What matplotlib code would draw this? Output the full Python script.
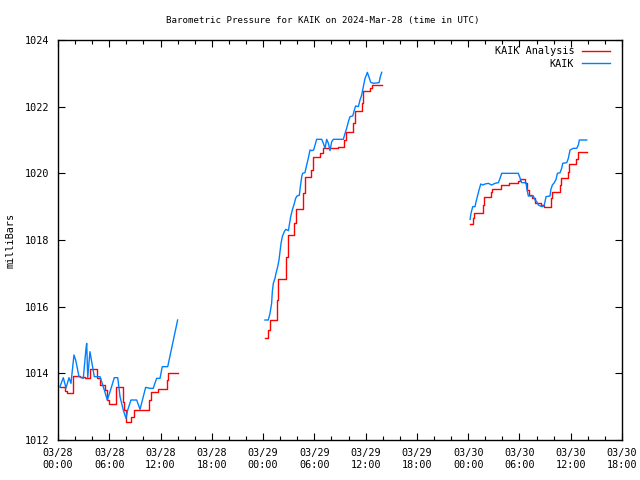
import datetime

import matplotlib
matplotlib.use('Agg')
import matplotlib.dates as mdates
import matplotlib.pyplot as plt
import numpy as np

# hours after 2024-03-28 00:00 UTC, pressure in millibars
analysis_hours = [
    [0.23, 0.82, 1.0, 1.8, 2.6, 3.2, 3.8, 4.6, 4.9, 5.5, 5.7, 6.0, 6.8, 7.6,
     7.75, 8.0, 8.6, 8.9, 10.6, 10.85, 11.7, 12.7, 12.9, 14.0],
    [24.22, 24.61, 24.8, 25.59, 25.78, 26.68, 26.96, 27.62, 27.89, 28.63, 28.9,
     29.57, 29.88, 30.66, 31.05, 32.8, 33.51, 33.67, 34.56, 34.76, 35.54, 35.73,
     36.51, 36.78, 37.88],
    [48.22, 48.53, 48.72, 49.7, 49.85, 50.67, 50.79, 51.8, 52.82, 53.87, 54.07,
     54.65, 54.85, 55.16, 55.43, 55.82, 56.52, 56.87, 57.69, 57.77, 58.75, 58.86,
     59.72, 59.84, 60.62, 60.89, 61.87],
]
analysis_mb = [
    [1013.6, 1013.47, 1013.4, 1013.93, 1013.9, 1013.85, 1014.12, 1013.85, 1013.65,
     1013.5, 1013.2, 1013.08, 1013.58, 1013.15, 1012.9, 1012.55, 1012.7, 1012.9,
     1013.2, 1013.45, 1013.53, 1013.8, 1014.02, 1014.02],
    [1015.05, 1015.3, 1015.6, 1016.2, 1016.82, 1017.5, 1018.15, 1018.5, 1018.92,
     1019.4, 1019.88, 1020.1, 1020.5, 1020.6, 1020.75, 1020.78, 1021.0, 1021.24,
     1021.5, 1021.87, 1022.1, 1022.47, 1022.55, 1022.65, 1022.65],
    [1018.48, 1018.65, 1018.8, 1019.05, 1019.28, 1019.43, 1019.52, 1019.64, 1019.72,
     1019.78, 1019.82, 1019.7, 1019.5, 1019.35, 1019.25, 1019.12, 1019.05, 1018.98,
     1019.25, 1019.45, 1019.65, 1019.85, 1020.05, 1020.28, 1020.42, 1020.65, 1020.65],
]

obs_hours = [
    [0.23, 0.62, 0.94, 1.29, 1.52, 1.87, 2.07, 2.46, 2.96, 3.28, 3.36, 3.48, 3.74,
     4.25, 4.92, 5.3, 5.77, 6.09, 6.59, 6.99, 7.26, 7.64, 7.96, 8.16, 8.54, 9.21,
     9.6, 10.26, 10.77, 11.15, 11.27, 11.55, 11.94, 12.2, 12.84, 14.0],
    [24.22, 24.61, 24.81, 25.0, 25.08, 25.2, 25.39, 25.51, 25.71, 25.86, 25.98,
     26.1, 26.25, 26.48, 26.65, 26.96, 27.07, 27.23, 27.42, 27.66, 27.81, 27.97,
     28.24, 28.36, 28.52, 28.63, 28.9, 29.1, 29.29, 29.49, 29.69, 29.92, 30.08,
     30.27, 30.86, 31.05, 31.25, 31.44, 31.64, 31.83, 32.03, 32.22, 33.39, 33.59,
     33.78, 33.98, 34.17, 34.49, 34.68, 34.83, 35.15, 35.34, 35.54, 35.65, 35.77,
     35.93, 36.05, 36.2, 36.4, 36.59, 36.9, 37.57, 37.72, 37.88],
    [48.22, 48.33, 48.53, 48.8, 48.92, 49.07, 49.27, 49.47, 49.7, 49.97, 50.36,
     50.75, 51.14, 51.53, 51.73, 51.92, 53.87, 54.26, 54.77, 54.85, 55.04, 55.63,
     55.82, 56.02, 56.21, 56.6, 56.87, 56.99, 57.11, 57.58, 57.66, 57.85, 58.08,
     58.28, 58.44, 58.75, 58.94, 59.06, 59.53, 59.72, 59.92, 60.3, 60.7, 60.89,
     61.01, 61.87],
]
obs_mb = [
    [1013.6, 1013.87, 1013.56, 1013.87, 1013.7, 1014.55, 1014.4, 1013.9, 1013.85,
     1014.75, 1014.9, 1013.87, 1014.65, 1013.9, 1013.9, 1013.6, 1013.2, 1013.45,
     1013.87, 1013.87, 1013.3, 1012.9, 1012.65, 1012.9, 1013.2, 1013.2, 1012.92,
     1013.58, 1013.55, 1013.55, 1013.65, 1013.85, 1013.85, 1014.2, 1014.2, 1015.6],
    [1015.6, 1015.6, 1015.8, 1016.1, 1016.45, 1016.7, 1016.85, 1017.0, 1017.2,
     1017.4, 1017.65, 1017.9, 1018.1, 1018.25, 1018.32, 1018.28, 1018.45, 1018.7,
     1018.9, 1019.1, 1019.25, 1019.32, 1019.34, 1019.6, 1019.9, 1020.0, 1020.02,
     1020.25, 1020.45, 1020.7, 1020.68, 1020.7, 1020.85, 1021.02, 1021.02, 1020.9,
     1020.75, 1021.02, 1020.9, 1020.68, 1020.95, 1021.02, 1021.02, 1021.2, 1021.35,
     1021.55, 1021.7, 1021.72, 1021.9, 1022.02, 1022.0, 1022.2, 1022.35, 1022.5,
     1022.65, 1022.85, 1022.92, 1023.03, 1022.88, 1022.73, 1022.7, 1022.72,
     1022.9, 1023.03],
    [1018.62, 1018.8, 1019.0, 1019.0, 1019.15, 1019.3, 1019.5, 1019.68, 1019.65,
     1019.68, 1019.7, 1019.65, 1019.7, 1019.72, 1019.85, 1020.0, 1020.0, 1019.72,
     1019.72, 1019.55, 1019.32, 1019.32, 1019.2, 1019.15, 1019.05, 1019.0, 1019.02,
     1019.15, 1019.3, 1019.32, 1019.5, 1019.65, 1019.72, 1019.82, 1020.0, 1020.02,
     1020.15, 1020.3, 1020.32, 1020.45, 1020.7, 1020.75, 1020.75, 1020.85, 1021.0,
     1021.0],
]

start = datetime.datetime(2024, 3, 28, 0, 0)


def to_times(hours):
    return [start + datetime.timedelta(hours=h) for h in hours]


fig = plt.figure(figsize=(6.4, 4.8), dpi=100)
ax = fig.add_axes([0.0906, 0.0833, 0.8813, 0.8334])
mono = 'DejaVu Sans Mono'

for i, (h, p) in enumerate(zip(analysis_hours, analysis_mb)):
    ax.plot(to_times(h), p, color='#ff0000', linewidth=1.0, drawstyle='steps-post',
            label='KAIK Analysis' if i == 0 else None)
for i, (h, p) in enumerate(zip(obs_hours, obs_mb)):
    ax.plot(to_times(h), p, color='#0080ff', linewidth=1.0,
            label='KAIK' if i == 0 else None)

ax.set_xlim(start, start + datetime.timedelta(hours=66))
ax.set_ylim(1012, 1024)
ax.set_yticks(np.arange(1012, 1025, 2))
ax.xaxis.set_major_locator(mdates.HourLocator(byhour=[0, 6, 12, 18]))
ax.xaxis.set_minor_locator(mdates.HourLocator(interval=2))
ax.xaxis.set_major_formatter(mdates.DateFormatter('%m/%d\n%H:%M'))
ax.tick_params(which='both', direction='in', top=True, right=True, labelsize=7.3, pad=6)
ax.tick_params(which='major', length=5, width=0.8)
ax.tick_params(which='minor', length=3, width=0.8)
for lbl in ax.get_xticklabels() + ax.get_yticklabels():
    lbl.set_family(mono)
for s in ax.spines.values():
    s.set_linewidth(1.0)

ax.set_ylabel('milliBars', fontsize=7.3, family=mono)
ax.yaxis.set_label_coords(-0.076, 0.5)
fig.text(0.505, 0.958, 'Barometric Pressure for KAIK on 2024-Mar-28 (time in UTC)',
         fontsize=6.6, family=mono, ha='center', va='center')
ax.legend(loc='upper right', bbox_to_anchor=(0.989, 1.0), frameon=False,
          markerfirst=False, handlelength=2.7,
          prop={'family': mono, 'size': 7.3}, borderaxespad=0.2, labelspacing=0.25,
          handletextpad=0.8)

plt.savefig('out.png', dpi=100)
